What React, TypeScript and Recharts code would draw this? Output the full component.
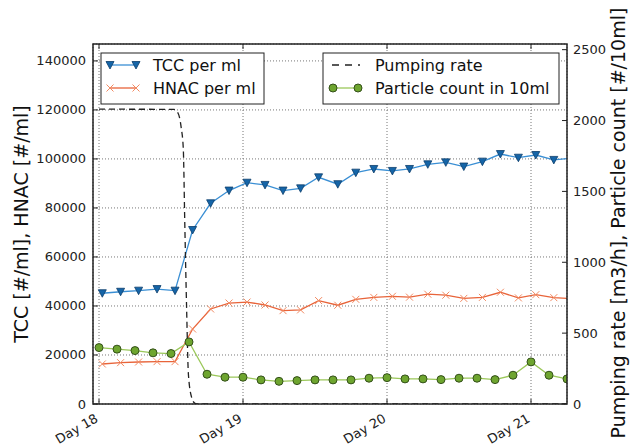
import React from 'react';
import { LineChart, Line, XAxis, YAxis, CartesianGrid } from 'recharts';

// sample times in hours after Day 18 00:00
const tccHours = [
  0.55, 3.6, 6.6, 9.67, 12.67, 15.6, 18.6, 21.67, 24.67, 27.67, 30.67, 33.6, 36.6, 39.8,
  42.8, 45.8, 48.9, 51.75, 54.8, 57.8, 60.8, 63.9, 66.9, 69.9, 72.8, 75.8, 78.8,
];
const tccValues = [
  45200, 45800, 46250, 46900, 46250, 71000, 81900, 87100, 90300, 89400, 87100, 88000, 92500,
  89700, 94400, 95900, 95100, 95900, 97800, 98600, 96900, 98900, 102000, 100500, 101600, 99600,
  100300,
];
const hnacValues = [
  16330, 16870, 17140, 17280, 17280, 30600, 38780, 41200, 41600, 40400, 38100, 38400, 42200,
  40300, 42700, 43500, 43950, 43600, 44800, 44400, 43100, 43500, 45600, 43300, 44600, 43400,
  43000,
];
const particleHours = [
  0, 3, 6, 9, 12, 15, 18, 21, 24, 27, 30, 33, 36, 39, 42, 45, 48, 51, 54, 57, 60, 63, 66, 69,
  72, 75, 78,
];
const particleValues = [
  398, 387, 377, 361, 356, 438, 210, 189, 189, 170, 160, 165, 170, 170, 170, 182, 186, 177, 177,
  172, 182, 182, 172, 203, 297, 203, 177,
];
const pumpHours = [0, 12.5, 13.2, 13.7, 14.05, 14.3, 14.6, 14.9, 15.45, 16, 16.6, 78];
const pumpValues = [2080, 2079, 2050, 1950, 1800, 1270, 680, 210, 45, 5, 0, 0];

const dayTicks = [0, 24, 48, 72];
const dayLabels = ['Day 18', 'Day 19', 'Day 20', 'Day 21'];
const leftTicks = [0, 20000, 40000, 60000, 80000, 100000, 120000, 140000];
const rightTicks = [0, 500, 1000, 1500, 2000, 2500];

const tccData = tccHours.map((h, i) => ({ h, tcc: tccValues[i], hnac: hnacValues[i] }));
const particleData = particleHours.map((h, i) => ({ h, particle: particleValues[i] }));
const pumpData = pumpHours.map((h, i) => ({ h, pump: pumpValues[i] }));

const FONT = 'DejaVu Sans, sans-serif';
const LEFT = 93;
const RIGHT = 567;
const TOP = 44;
const BOTTOM = 404;

const TCC_LINE = '#3a8fd4';
const TCC_MARK = '#1565a8';
const HNAC_LINE = '#e8643a';
const HNAC_MARK = '#f28a62';
const PART_LINE = '#9bc85a';
const PART_MARK = '#6ea52f';

const TriDown = ({ cx, cy }: { cx: number; cy: number }) => (
  <polygon
    points={`${cx - 4},${cy - 3.5} ${cx + 4},${cy - 3.5} ${cx},${cy + 4}`}
    fill={TCC_MARK}
    stroke="#0d3e6b"
    strokeWidth={0.8}
  />
);

const Cross = ({ cx, cy }: { cx: number; cy: number }) => (
  <g stroke={HNAC_MARK} strokeWidth={1}>
    <line x1={cx - 3.5} y1={cy - 3.5} x2={cx + 3.5} y2={cy + 3.5} />
    <line x1={cx - 3.5} y1={cy + 3.5} x2={cx + 3.5} y2={cy - 3.5} />
  </g>
);

const Dot = ({ cx, cy }: { cx: number; cy: number }) => (
  <circle cx={cx} cy={cy} r={4} fill={PART_MARK} stroke="#34501a" strokeWidth={1} />
);

const LeftTick = (props: any) => {
  const { y, payload } = props;
  return (
    <g>
      <line x1={LEFT} x2={LEFT + 5} y1={y} y2={y} stroke="#222" />
      <text x={LEFT - 7} y={y} textAnchor="end" dominantBaseline="central" fontSize={13} fill="#222" fontFamily={FONT}>
        {payload.value}
      </text>
    </g>
  );
};

const RightTick = (props: any) => {
  const { y, payload } = props;
  return (
    <g>
      <line x1={RIGHT - 5} x2={RIGHT} y1={y} y2={y} stroke="#222" />
      <text x={RIGHT + 6} y={y} textAnchor="start" dominantBaseline="central" fontSize={13} fill="#222" fontFamily={FONT}>
        {payload.value}
      </text>
    </g>
  );
};

const DayTick = (props: any) => {
  const { x, payload } = props;
  const i = dayTicks.indexOf(payload.value);
  const ty = BOTTOM + 17;
  return (
    <g>
      <line x1={x} x2={x} y1={BOTTOM} y2={BOTTOM - 5} stroke="#222" />
      <line x1={x} x2={x} y1={TOP} y2={TOP + 5} stroke="#222" />
      <text
        x={x}
        y={ty}
        textAnchor="end"
        fontSize={13}
        fill="#222"
        fontFamily={FONT}
        transform={`rotate(-30, ${x}, ${ty})`}
      >
        {dayLabels[i]}
      </text>
    </g>
  );
};

const Overlay = () => (
  <svg width={631} height={446} style={{ position: 'absolute', left: 0, top: 0, pointerEvents: 'none' }}>
    <rect x={LEFT} y={TOP} width={RIGHT - LEFT} height={BOTTOM - TOP} fill="none" stroke="#222" strokeWidth={1.5} />

    <text x={28} y={224} transform="rotate(-90, 28, 224)" textAnchor="middle" fontSize={19} fill="#111" fontFamily={FONT}>
      TCC [#/ml], HNAC [#/ml]
    </text>
    <text x={625} y={223} transform="rotate(-90, 625, 223)" textAnchor="middle" fontSize={19} fill="#111" fontFamily={FONT}>
      Pumping rate [m3/h], Particle count [#/10ml]
    </text>

    <g fontFamily={FONT} fontSize={16} fill="#111">
      <rect x={101} y={53} width={163} height={51} fill="#fff" stroke="#222" strokeWidth={1} />
      <line x1={110} x2={136} y1={65} y2={65} stroke={TCC_LINE} strokeWidth={1.3} />
      <TriDown cx={110} cy={65} />
      <TriDown cx={136} cy={65} />
      <text x={153} y={65} dominantBaseline="central">TCC per ml</text>
      <line x1={110} x2={136} y1={88} y2={88} stroke={HNAC_LINE} strokeWidth={1.3} />
      <Cross cx={110} cy={88} />
      <Cross cx={136} cy={88} />
      <text x={153} y={88} dominantBaseline="central">HNAC per ml</text>

      <rect x={323} y={53} width={236} height={51} fill="#fff" stroke="#222" strokeWidth={1} />
      <line x1={332} x2={360} y1={65} y2={65} stroke="#222" strokeWidth={1.3} strokeDasharray="7 6" />
      <text x={375} y={65} dominantBaseline="central">Pumping rate</text>
      <line x1={333} x2={358} y1={88} y2={88} stroke={PART_LINE} strokeWidth={1.3} />
      <Dot cx={333} cy={88} />
      <Dot cx={358} cy={88} />
      <text x={375} y={88} dominantBaseline="central">Particle count in 10ml</text>
    </g>
  </svg>
);

export default function App() {
  return (
    <div style={{ position: 'absolute', left: 0, top: 0, width: 631, height: 446, background: '#fff' }}>
      <LineChart width={631} height={446} margin={{ top: TOP, right: 0, bottom: 0, left: 0 }}>
        <CartesianGrid yAxisId="left" stroke="#777" strokeDasharray="1 2" strokeWidth={1} />
        <XAxis
          dataKey="h"
          type="number"
          domain={[-1, 78]}
          allowDataOverflow
          ticks={dayTicks}
          interval={0}
          height={BOTTOM === 404 ? 42 : 42}
          tickSize={0}
          tickMargin={0}
          axisLine={false}
          tickLine={false}
          tick={<DayTick />}
        />
        <YAxis
          yAxisId="left"
          width={LEFT}
          domain={[0, 146900]}
          allowDataOverflow
          ticks={leftTicks}
          interval={0}
          tickSize={0}
          axisLine={false}
          tickLine={false}
          tick={<LeftTick />}
        />
        <YAxis
          yAxisId="right"
          orientation="right"
          width={631 - RIGHT}
          domain={[0, 2540]}
          allowDataOverflow
          ticks={rightTicks}
          interval={0}
          tickSize={0}
          axisLine={false}
          tickLine={false}
          tick={<RightTick />}
        />
        <Line
          yAxisId="left"
          data={tccData}
          dataKey="tcc"
          stroke={TCC_LINE}
          strokeWidth={1.3}
          isAnimationActive={false}
          dot={(p: any) => <TriDown key={`t${p.index}`} cx={p.cx} cy={p.cy} />}
        />
        <Line
          yAxisId="left"
          data={tccData}
          dataKey="hnac"
          stroke={HNAC_LINE}
          strokeWidth={1.3}
          isAnimationActive={false}
          dot={(p: any) => <Cross key={`h${p.index}`} cx={p.cx} cy={p.cy} />}
        />
        <Line
          yAxisId="right"
          data={pumpData}
          dataKey="pump"
          type="monotone"
          stroke="#222"
          strokeWidth={1.3}
          strokeDasharray="6 4"
          isAnimationActive={false}
          dot={false}
        />
        <Line
          yAxisId="right"
          data={particleData}
          dataKey="particle"
          stroke={PART_LINE}
          strokeWidth={1.3}
          isAnimationActive={false}
          dot={(p: any) => <Dot key={`p${p.index}`} cx={p.cx} cy={p.cy} />}
        />
      </LineChart>
      <Overlay />
    </div>
  );
}
